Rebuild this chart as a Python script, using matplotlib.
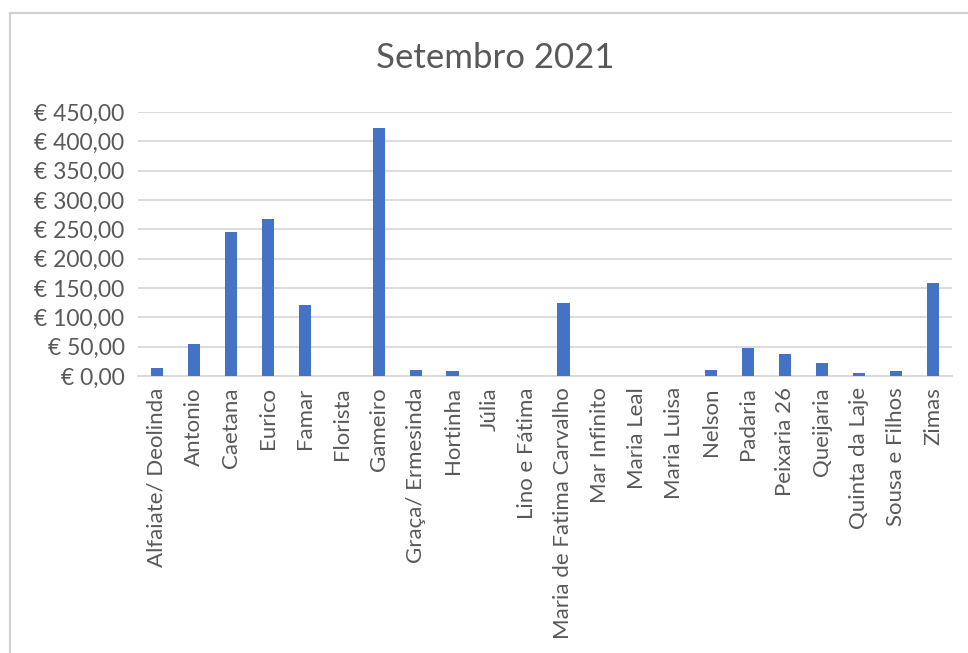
import matplotlib
matplotlib.use("Agg")
import matplotlib.pyplot as plt
from matplotlib.patches import Rectangle
from matplotlib.ticker import FuncFormatter

# data
clientes = ["Alfaiate/ Deolinda", "Antonio", "Caetana", "Eurico", "Famar",
            "Florista", "Gameiro", "Graça/ Ermesinda", "Hortinha", "Júlia",
            "Lino e Fátima", "Maria de Fatima Carvalho", "Mar Infinito",
            "Maria Leal", "Maria Luisa", "Nelson", "Padaria", "Peixaria 26",
            "Queijaria", "Quinta da Laje", "Sousa e Filhos", "Zimas"]
valores = [14, 55, 245, 268, 121, 0, 423, 10, 8, 0, 0, 124, 0, 0, 0,
           10, 48, 37, 23, 6, 8, 158]
yticks = [0, 50, 100, 150, 200, 250, 300, 350, 400, 450]

plt.rcParams['font.family'] = ['Lato', 'DejaVu Sans']
texto = '#595959'
grelha = '#d9d9d9'

fig = plt.figure(figsize=(9.68, 6.53), dpi=100)
fig.patches.append(Rectangle((10 / 968, -0.05), 1.1, 1 - 13 / 653 + 0.05,
                             transform=fig.transFigure, fill=False,
                             edgecolor='#d0d0d0', linewidth=1.5))

ax = fig.add_axes([0.143, 0.424, 0.840, 0.4045])
x = list(range(len(clientes)))
ax.bar(x, valores, width=0.33, color='#4472C4', zorder=3)

ax.set_xlim(-0.5, len(clientes) - 0.5)
ax.set_ylim(0, 450)
ax.set_yticks(yticks)
ax.yaxis.set_major_formatter(FuncFormatter(
    lambda v, p: '€ ' + f'{v:.2f}'.replace('.', ',')))
ax.set_xticks(x)
ax.set_xticklabels(clientes, rotation=90)
ax.grid(axis='y', color=grelha, linewidth=1.3, zorder=0)
for s in ['top', 'right', 'left']:
    ax.spines[s].set_visible(False)
ax.spines['bottom'].set_color(grelha)
ax.spines['bottom'].set_linewidth(1.3)
ax.tick_params(axis='x', length=0, labelsize=16, colors=texto, pad=8)
ax.tick_params(axis='y', length=0, labelsize=16.5, colors=texto, pad=10)

fig.text(0.512, 0.911, 'Setembro 2021', ha='center', va='center',
         fontsize=25, color=texto)

fig.savefig('out.png', dpi=100)
